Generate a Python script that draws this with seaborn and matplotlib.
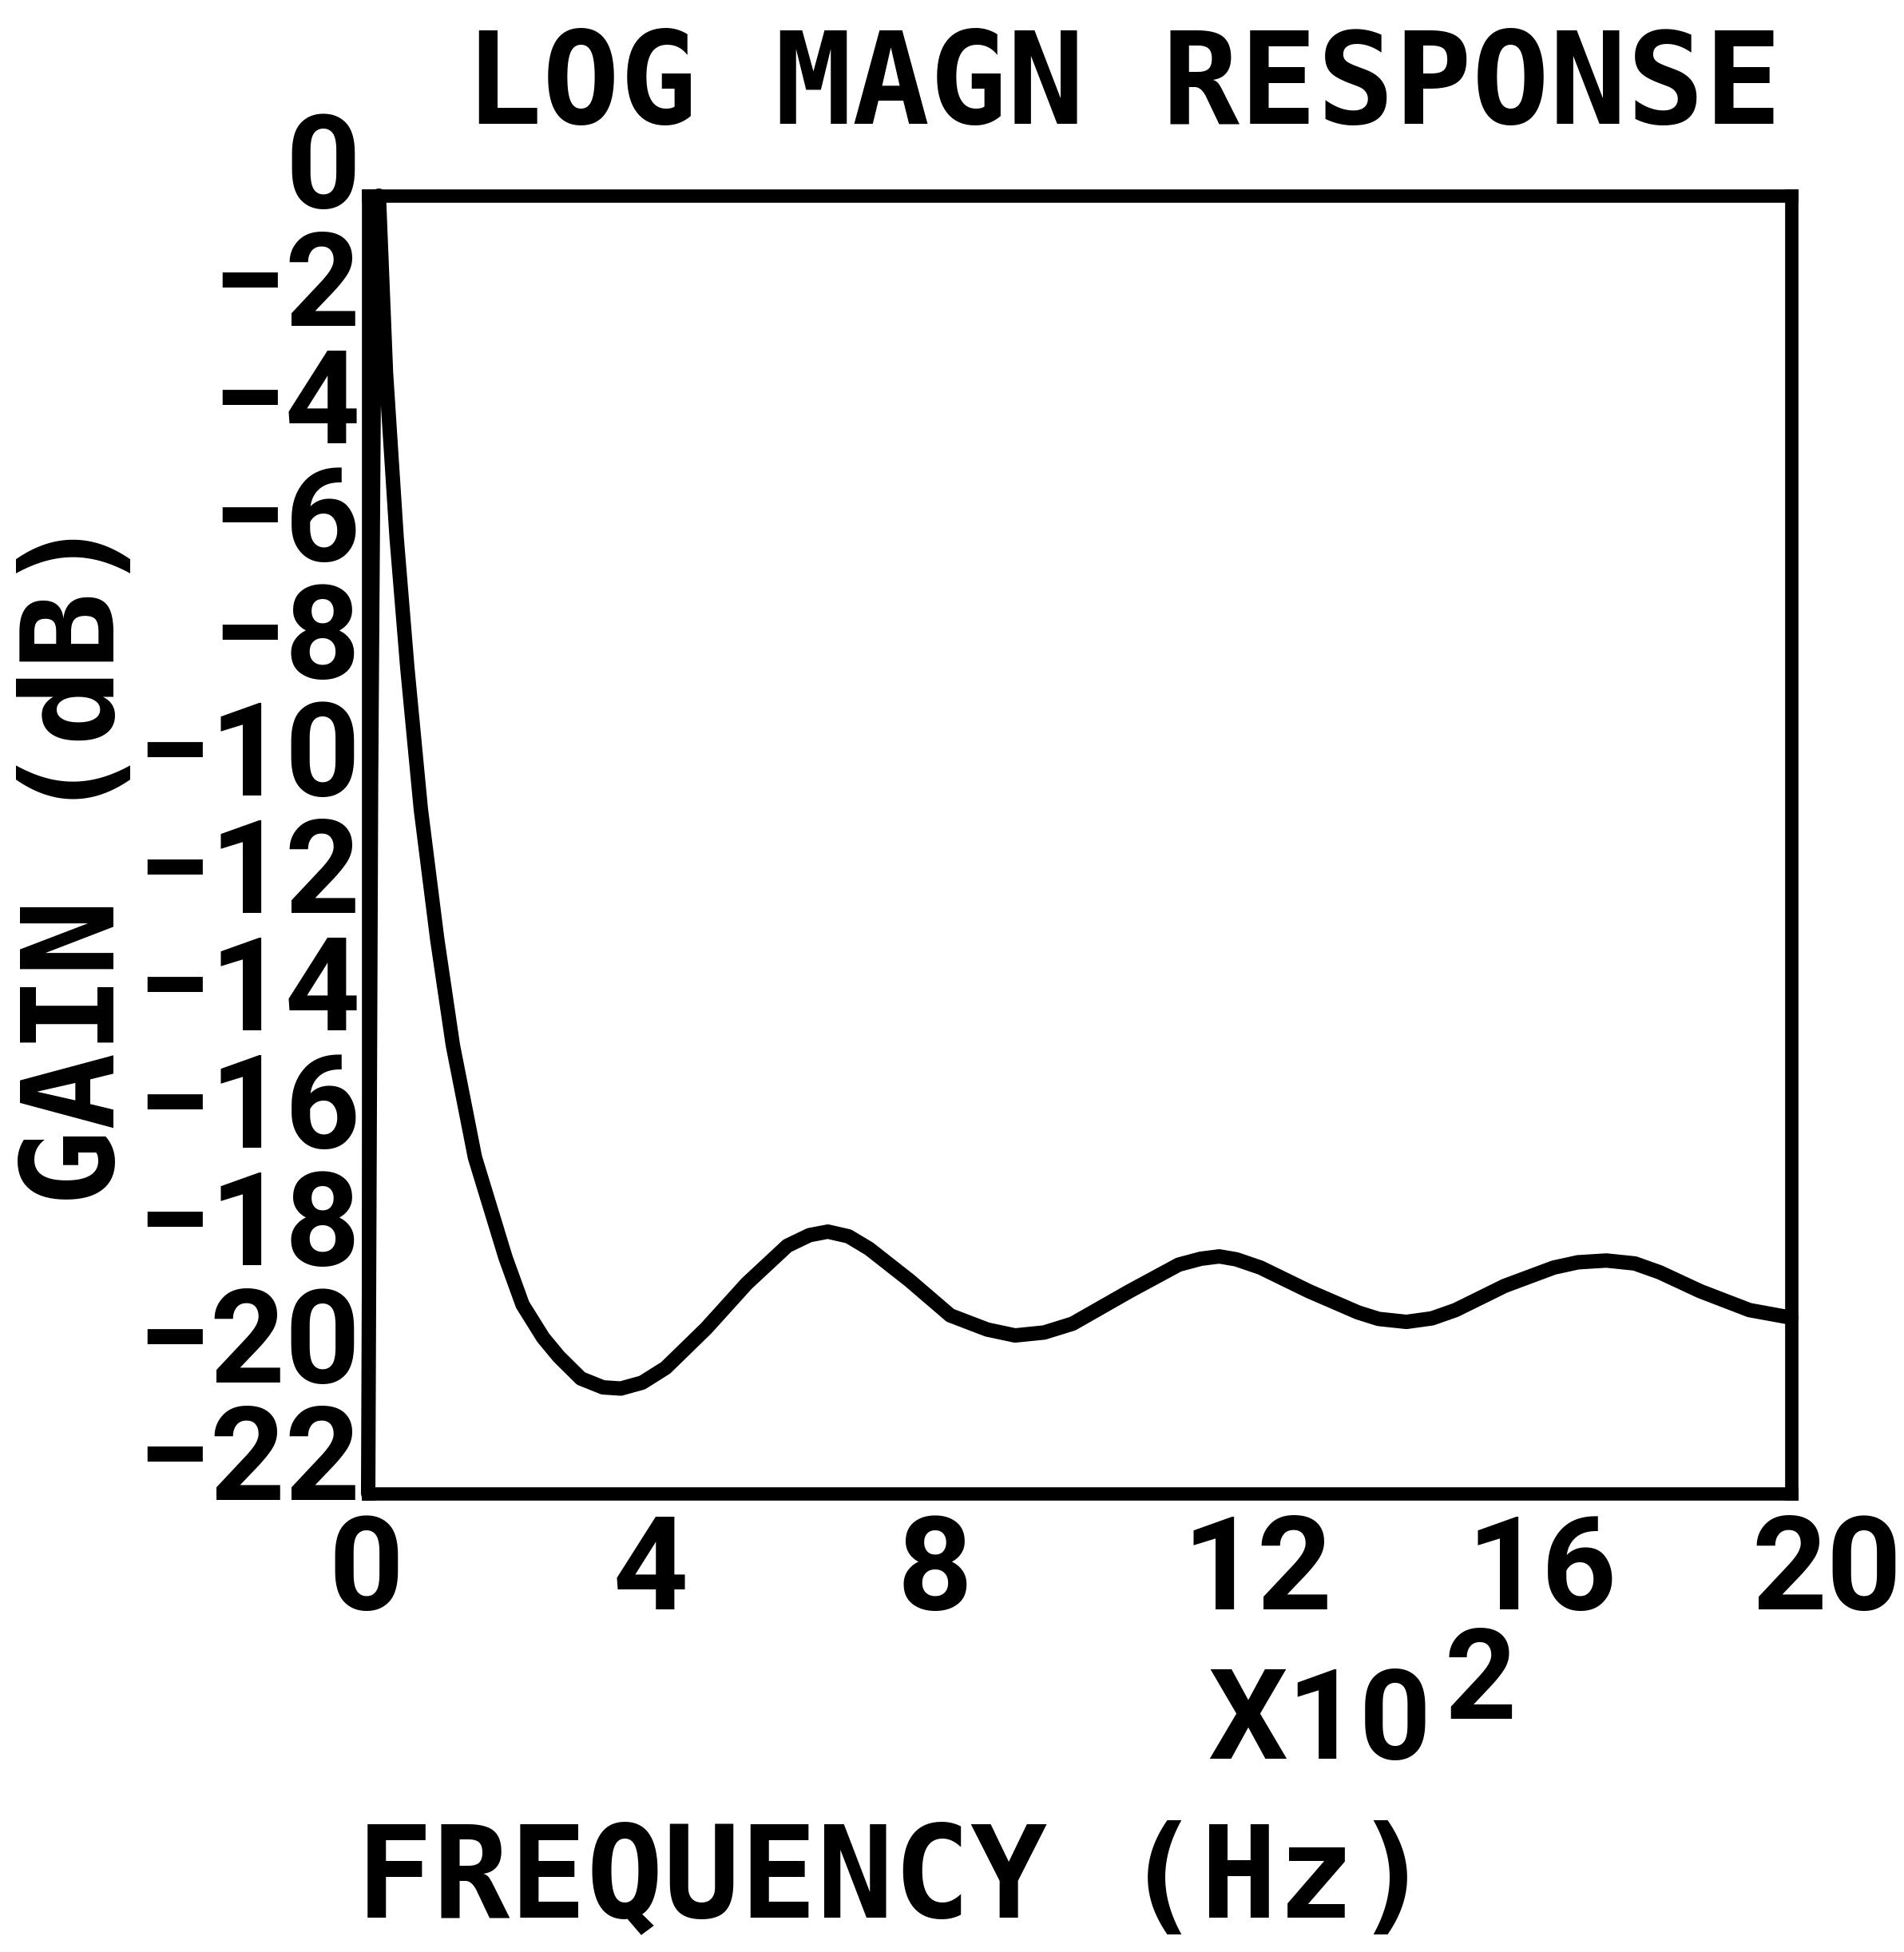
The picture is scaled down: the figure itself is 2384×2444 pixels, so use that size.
import matplotlib
matplotlib.use("Agg")
import matplotlib.pyplot as plt
import matplotlib.transforms as mtransforms
import pandas as pd
import seaborn as sns

# Frequency in units of 100 Hz, gain in dB
freq_x100 = [0.00, 0.04, 0.08, 0.12, 0.15, 0.20, 0.25, 0.40, 0.55, 0.74,
             0.97, 1.19, 1.50, 1.93, 2.17, 2.46, 2.68, 2.99, 3.30, 3.55,
             3.85, 4.18, 4.75, 5.32, 5.89, 6.20, 6.46, 6.75, 7.04, 7.61,
             8.18, 8.70, 9.09, 9.50, 9.90, 10.70, 11.39, 11.70, 11.96, 12.20,
             12.54, 13.22, 13.91, 14.20, 14.59, 14.95, 15.28, 15.97, 16.66, 17.00,
             17.40, 17.80, 18.15, 18.72, 19.41, 20.00]
gain_db = [-22.0, -10.0, -3.0, -0.5, 0.0, -1.5, -3.0, -5.8, -8.0, -10.4,
           -12.6, -14.4, -16.3, -18.0, -18.8, -19.36, -19.68, -20.05, -20.2, -20.22,
           -20.12, -19.87, -19.2, -18.44, -17.8, -17.62, -17.56, -17.64, -17.85, -18.39,
           -18.98, -19.22, -19.32, -19.27, -19.12, -18.57, -18.12, -18.02, -17.98, -18.03,
           -18.17, -18.57, -18.93, -19.04, -19.09, -19.03, -18.89, -18.48, -18.17, -18.08,
           -18.05, -18.1, -18.25, -18.57, -18.89, -19.02]

x_ticks = [0, 4, 8, 12, 16, 20]
x_tick_labels = ["0", "4", "8", "12", "16", "20"]
y_ticks = [0, -2, -4, -6, -8, -10, -12, -14, -16, -18, -20, -22]
y_tick_labels = ["0", "\u22122", "\u22124", "\u22126", "\u22128", "\u221210",
                 "\u221212", "\u221214", "\u221216", "\u221218", "\u221220", "\u221222"]

sns.set_theme(style="white")
plt.rcParams["font.family"] = ["DejaVu Sans Mono", "DejaVu Sans"]
plt.rcParams["font.weight"] = "bold"
NUM_FONT = ["Roboto", "DejaVu Sans"]

W, H = 2384, 2444
fig = plt.figure(figsize=(W / 100, H / 100), dpi=100)
left, right, top, bottom = 461, 2243, 245, 1870
ax = fig.add_axes([left / W, 1 - bottom / H, (right - left) / W, (bottom - top) / H])

df = pd.DataFrame({"freq": freq_x100, "gain": gain_db})
sns.lineplot(data=df, x="freq", y="gain", ax=ax, color="black", linewidth=13,
             sort=False, clip_on=False, solid_joinstyle="round", solid_capstyle="round")

ax.set_xlim(0, 20)
ax.set_ylim(-22, 0)
ax.set_xticks(x_ticks)
ax.set_xticklabels(x_tick_labels)
ax.set_yticks(y_ticks)
ax.set_yticklabels(y_tick_labels)
ax.tick_params(axis="both", length=0, labelcolor="black")
ax.tick_params(axis="x", pad=16)
ax.tick_params(axis="y", pad=7)
ax.set_xlabel("")
ax.set_ylabel("")

for lab in ax.get_xticklabels() + ax.get_yticklabels():
    lab.set_fontfamily(NUM_FONT)
    lab.set_fontweight("bold")
    lab.set_fontsize(118)

# gain labels sit a little above their tick positions
for i, lab in enumerate(ax.get_yticklabels()):
    yshift = mtransforms.ScaledTranslation(0, 0.46 + 0.0064 * i, fig.dpi_scale_trans)
    lab.set_transform(lab.get_transform() + yshift)

# frequency labels start just left of their tick positions
xshift = mtransforms.ScaledTranslation(-0.50, 0, fig.dpi_scale_trans)
for lab in ax.get_xticklabels():
    lab.set_horizontalalignment("left")
    lab.set_transform(lab.get_transform() + xshift)

for sp in ax.spines.values():
    sp.set_visible(True)
    sp.set_color("black")
    sp.set_linewidth(12)

fig.text(1407 / W, 1 - 155 / H, "LOG MAGN RESPONSE", fontsize=116,
         fontweight="bold", ha="center", va="baseline", color="black")
fig.text(446 / W, 1 - 2400 / H, "FREQUENCY (Hz)", fontsize=115,
         fontweight="bold", ha="left", va="baseline", color="black")
fig.text(99 / W, 1 - 1077 / H, "GAIN (dB)", fontsize=115, rotation=90,
         fontweight="bold", ha="center", va="center", color="black")
fig.text(1512 / W, 1 - 2202 / H, "X10", fontsize=113, family=NUM_FONT,
         fontweight="bold", ha="left", va="baseline", color="black")
fig.text(1808 / W, 1 - 2152 / H, "2", fontsize=113, family=NUM_FONT,
         fontweight="bold", ha="left", va="baseline", color="black")

fig.savefig("out.png", dpi=100, facecolor="white")
